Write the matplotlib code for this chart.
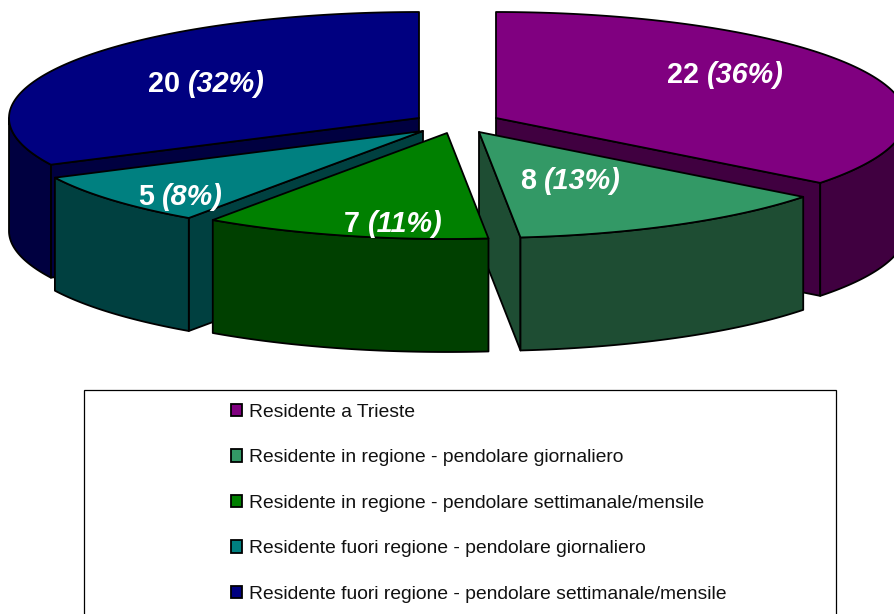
import numpy as np
import matplotlib
matplotlib.use("Agg")
import matplotlib.pyplot as plt
from matplotlib.patches import Polygon, Patch, Rectangle

# --- data ---
categories = ["Residente a Trieste",
              "Residente in regione - pendolare giornaliero",
              "Residente in regione - pendolare settimanale/mensile",
              "Residente fuori regione - pendolare giornaliero",
              "Residente fuori regione - pendolare settimanale/mensile"]
values = [22, 8, 7, 5, 20]
percent_labels = [36, 13, 11, 8, 32]

# --- style / layout ---
top_colors = ["#800080", "#339966", "#008000", "#008080", "#000080"]
side_colors = ["#400040", "#1E4D33", "#004000", "#004040", "#000040"]
apex_x = [496, 479, 447, 423, 419]
apex_y = [118, 132, 133, 131, 118]
label_x = [667, 520, 344, 138, 148]
label_y = [83, 189, 232, 205, 92]
draw_order = [0, 4, 3, 1, 2]
RX, RY, DEPTH = 410, 106, 113
LW = 1.3
FONT = "Liberation Sans"

fig = plt.figure(figsize=(8.95, 6.14), dpi=100)
ax = fig.add_axes([0, 0, 1, 1])
ax.set_xlim(0, 895)
ax.set_ylim(614, 0)
ax.axis("off")

edges = np.concatenate([[0], np.cumsum(values)]) / np.sum(values) * 360.0


def rim(cx, cy, t0, t1):
    t = np.radians(np.linspace(t0, t1, max(int(abs(t1 - t0) * 2), 2)))
    return np.column_stack([cx + RX * np.sin(t), cy - RY * np.cos(t)])


def add(points, color):
    ax.add_patch(Polygon(points, closed=True, facecolor=color, edgecolor="black",
                         linewidth=LW, joinstyle="round"))


def radial_face(i, t, color):
    apex = np.array([apex_x[i], apex_y[i]], float)
    end = rim(apex_x[i], apex_y[i], t, t)[0]
    drop = np.array([0, DEPTH])
    add([apex, end, end + drop, apex + drop], color)


for i in draw_order:
    t0, t1 = edges[i], edges[i + 1]
    if np.sin(np.radians(t0)) < 0:
        radial_face(i, t0, side_colors[i])
    if np.sin(np.radians(t1)) > 1e-6:
        radial_face(i, t1, side_colors[i])
    a, b = max(t0, 90), min(t1, 270)
    if b > a:
        arc = rim(apex_x[i], apex_y[i], a, b)
        add(np.vstack([arc, (arc + [0, DEPTH])[::-1]]), side_colors[i])
    add(np.vstack([[apex_x[i], apex_y[i]], rim(apex_x[i], apex_y[i], t0, t1)]), top_colors[i])

for i, (v, p) in enumerate(zip(values, percent_labels)):
    t = ax.text(label_x[i], label_y[i], str(v), color="white", fontsize=20.7,
                fontweight="bold", family=FONT, va="baseline", ha="left")
    ax.annotate(f"({p}%)", xy=(1, label_y[i]), xycoords=(t, "data"),
                xytext=(5.5, 0), textcoords="offset points", color="white",
                fontsize=20.7, fontweight="bold", fontstyle="italic", family=FONT,
                va="baseline", ha="left")

ax.add_patch(Rectangle((84.5, 389.5), 752, 240, facecolor="white", edgecolor="black", linewidth=0.9))
handles = [Patch(facecolor=c, edgecolor="black", linewidth=1.3) for c in top_colors]
ax.legend(handles, categories, loc="upper left", bbox_to_anchor=(225, 398),
          bbox_transform=ax.transData, frameon=False,
          prop={"family": FONT, "size": 13.85}, labelspacing=1.48,
          handlelength=0.6, handleheight=0.6, handletextpad=0.33,
          labelcolor="#111111", borderaxespad=0, borderpad=0.3)

fig.savefig("out.png", dpi=100)
